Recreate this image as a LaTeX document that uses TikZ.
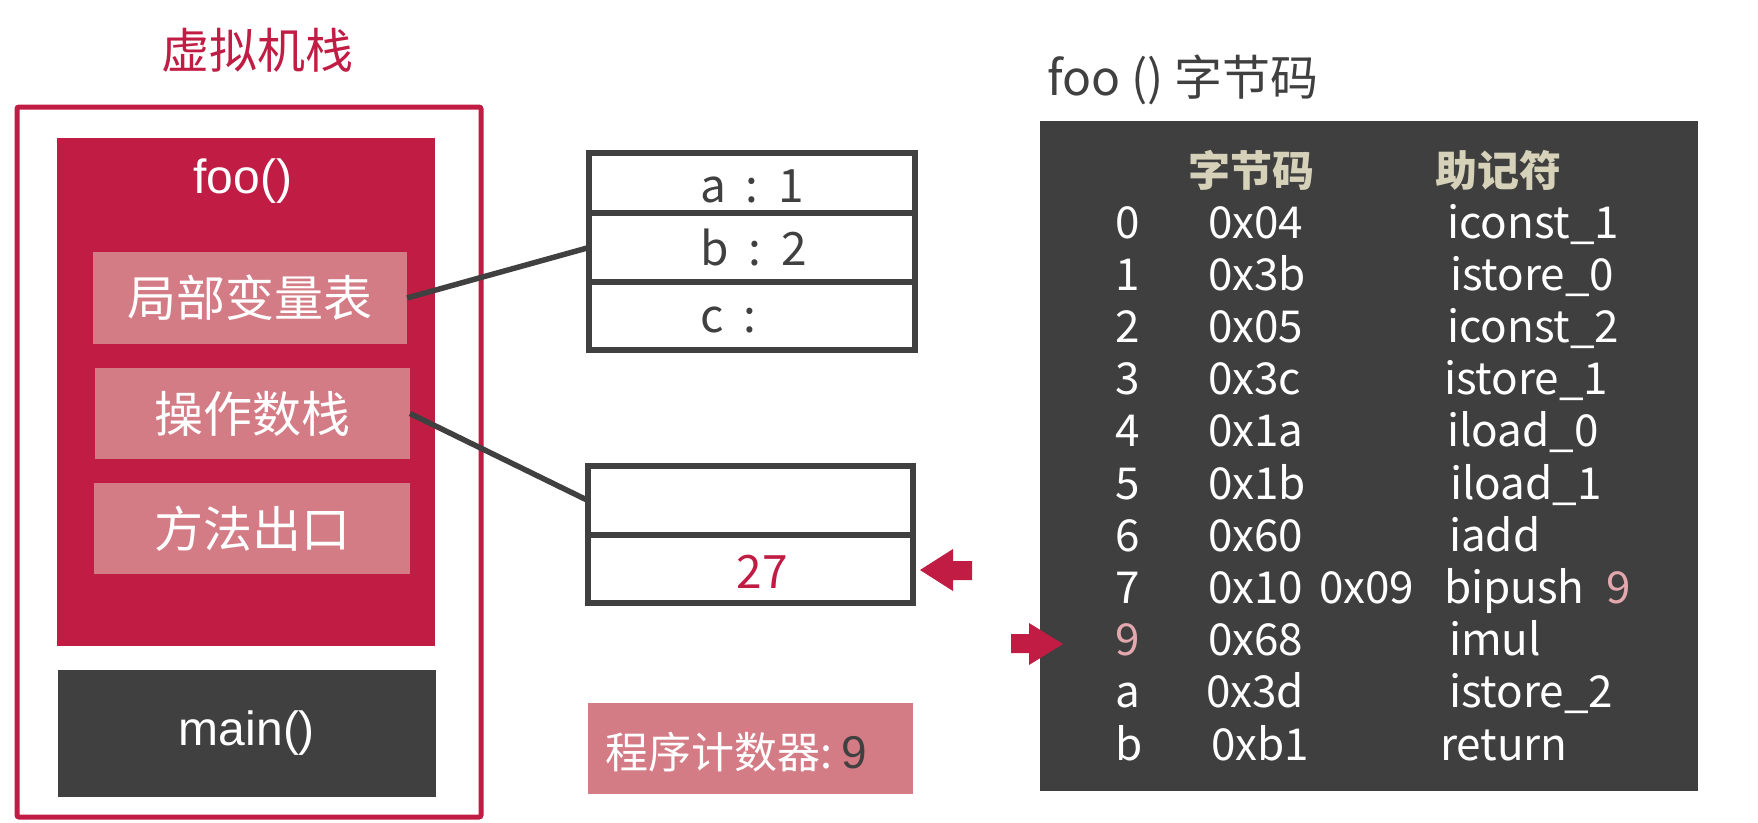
\documentclass[tikz,border=0pt]{standalone}
\usepackage{fontspec}
\setmainfont{Noto Sans CJK SC}
\newfontfamily\arialf{Liberation Sans}
\definecolor{crim}{RGB}{193,28,68}
\definecolor{pinkc}{RGB}{212,124,134}
\definecolor{dark}{RGB}{64,64,64}
\definecolor{panel}{RGB}{63,63,63}
\definecolor{beige}{RGB}{214,210,186}
\definecolor{lpink}{RGB}{226,168,174}
\begin{document}
\begin{tikzpicture}[x=1pt,y=-1pt,
  every node/.style={inner sep=0pt,outer sep=0pt},
  fs/.style={font=\fontsize{#1}{#1}\selectfont},
  pinkbox/.style={fill=pinkc,text=white,fs=49},
  cell/.style={draw=dark,line width=5.5pt,minimum width=326pt,text=dark,fs=46},
  code/.style={anchor=base west,text=white,fs=44},
  conn/.style={draw=dark,line width=5.5pt},
  redarrow/.style={fill=crim}]
\useasboundingbox (0,0) rectangle (1758,822);
% title
\node[text=crim,fs=48] (title) at (257,50) {虚拟机栈};
% outer frame
\node[draw=crim,line width=5pt,rounded corners=2pt,minimum width=464pt,minimum height=710pt] (vmstack) at (249,462) {};
% foo frame
\node[fill=crim,minimum width=378pt,minimum height=508pt] (fooframe) at (246,392) {};
\node[text=white,font=\arialf\fontsize{48}{48}\selectfont] (foolbl) at (243,181) {foo()};
\node[pinkbox,minimum width=314pt,minimum height=92pt] (lv) at (250,298) {局部变量表};
\node[pinkbox,minimum width=315pt,minimum height=91pt] (ops) at (252.5,413.5) {操作数栈};
\node[pinkbox,minimum width=316pt,minimum height=91pt] (exit) at (252,528.5) {方法出口};
% main frame
\node[fill=dark,minimum width=378pt,minimum height=127pt,text=white,font=\arialf\fontsize{48}{48}\selectfont] (mainframe) at (247,733.5) {main()};
% local variable table
\node[cell,minimum height=60pt] (ra) at (752,183) {};
\node[cell,minimum height=69pt] (rb) at (752,247.5) {};
\node[cell,minimum height=68pt] (rc) at (752,316) {};
\node[anchor=base west,text=dark,fs=46] (ta) at (700,202) {a\hspace{20pt}:\hspace{20pt}1};
\node[anchor=base west,text=dark,fs=46] (tb) at (700,265) {b\hspace{20pt}:\hspace{20pt}2};
\node[anchor=base west,text=dark,fs=46] (tc) at (700,332) {c\hspace{20pt}:};
% operand stack
\node[cell,minimum width=325pt,minimum height=69pt] (sa) at (750.5,500.5) {};
\node[cell,minimum width=325pt,minimum height=68pt] (sb) at (750.5,569) {};
\node[anchor=base,text=crim,fs=46] (v27) at (762,588) {27};
% connectors
\draw[conn] (lv.east) -- (rb.west);
\draw[conn] (ops.east) -- (sa.west);
% program counter
\node[fill=pinkc,minimum width=325pt,minimum height=91pt] (pcbox) at (750.5,748.5) {};
\node[anchor=west,fs=43,text=white] (pc) at (605,752) {程序计数器:\ \textcolor{dark}{\arialf\fontsize{46}{46}\selectfont 9}};
% bytecode title and panel
\node[anchor=west,text=dark,fs=48] (bctitle) at (1047,80) {foo () 字节码};
\node[fill=panel,minimum width=658pt,minimum height=670pt] (bcpanel) at (1369,456) {};
% red arrows
\fill[redarrow] (920,570) -- (953,549) -- (953,561) -- (972,561) -- (972,580) -- (953,580) -- (953,591) -- cycle;
\fill[redarrow] (1063,644) -- (1029,623) -- (1029,634) -- (1011,634) -- (1011,653) -- (1029,653) -- (1029,665) -- cycle;
\node[text=beige,font=\fontsize{42}{42}\selectfont\bfseries] (h1) at (1251,170) {字节码};
\node[text=beige,font=\fontsize{42}{42}\selectfont\bfseries] (h2) at (1498,170) {助记符};
\foreach \a/\ac/\b/\bx/\c/\cx [count=\n from 0] in {
  0/white/0x04/1208/iconst\_1/1447,
  1/white/0x3b/1208/istore\_0/1450,
  2/white/0x05/1208/iconst\_2/1447,
  3/white/0x3c/1208/istore\_1/1444,
  4/white/0x1a/1208/iload\_0/1447,
  5/white/0x1b/1208/iload\_1/1450,
  6/white/0x60/1208/iadd/1449,
  7/white/0x10/1208/bipush/1444,
  9/lpink/0x68/1208/imul/1449,
  a/white/0x3d/1206/istore\_2/1449,
  b/white/0xb1/1211/return/1440}{
  \pgfmathsetmacro\yy{238+52.2*\n}
  \node[code,text=\ac] (idx\n) at (1115,\yy) {\a};
  \node[code] (hex\n) at (\bx,\yy) {\b};
  \node[code] (mn\n) at (\cx,\yy) {\c};
}
\node[code] (hexb) at (1319,603.4) {0x09};
\node[code,text=lpink] (arg9) at (1606,603.4) {9};
\end{tikzpicture}
\end{document}
